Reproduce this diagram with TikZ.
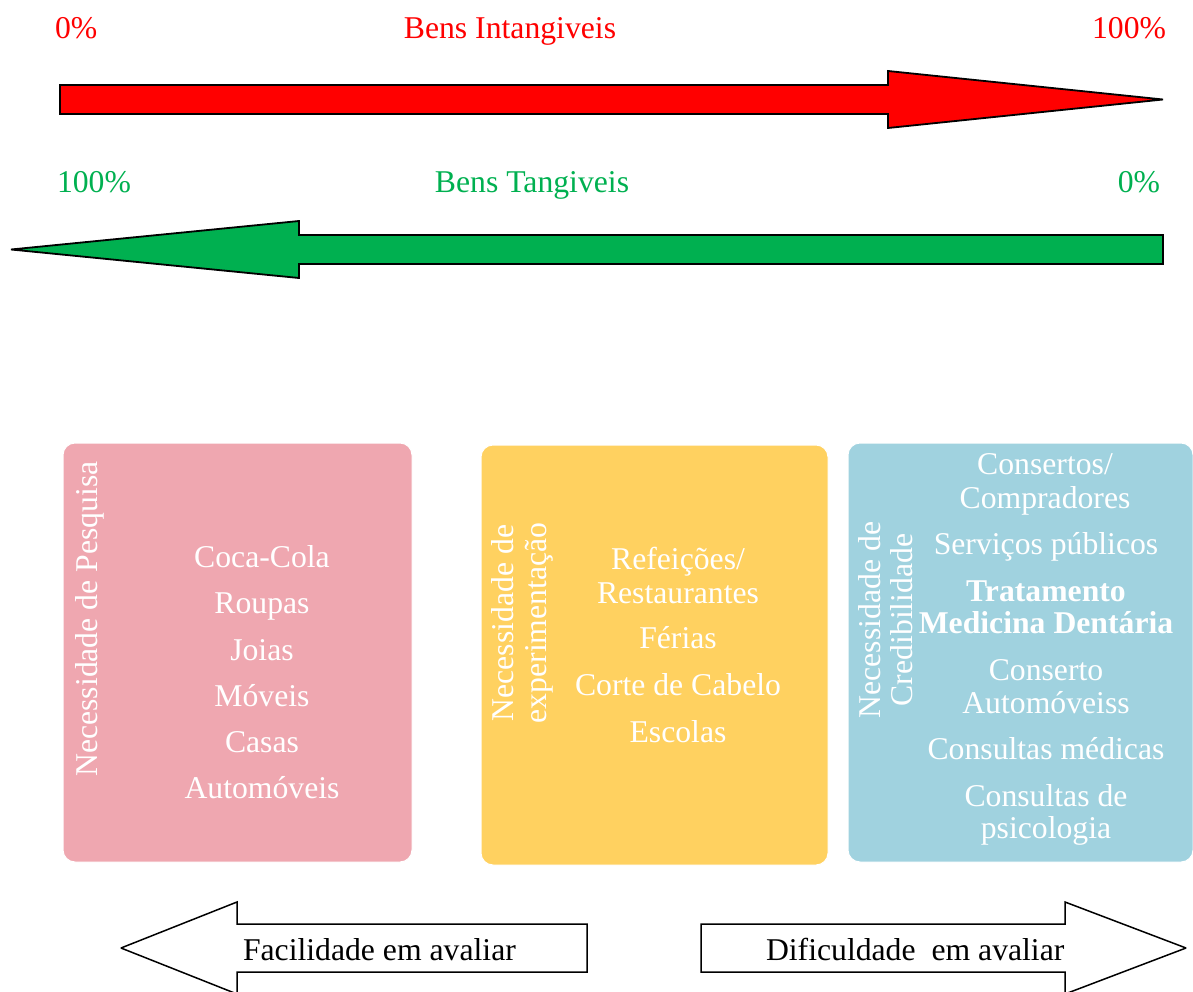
\documentclass[tikz,border=0pt]{standalone}
\usepackage{fontspec}
\setmainfont{Liberation Serif}
\definecolor{arrowred}{RGB}{255,0,0}
\definecolor{arrowgreen}{RGB}{0,176,80}
\definecolor{boxpink}{RGB}{239,167,176}
\definecolor{boxyellow}{RGB}{255,209,96}
\definecolor{boxblue}{RGB}{160,210,223}
\begin{document}
\begin{tikzpicture}[x=1pt,y=-1pt,
  txt/.style={font=\fontsize{31.7}{33}\selectfont, inner sep=0pt, outer sep=0pt, anchor=base},
  item/.style={txt, text=white},
  side/.style={item, rotate=90},
  panel/.style={draw=white, line width=1pt, rounded corners=12pt, inner sep=0pt,
                outer sep=0pt, anchor=north west},
  bigarrow/.style={draw=black, line width=1.8pt, line join=miter, miter limit=2},
  outlinearrow/.style={draw=black, line width=1.5pt, fill=white, line join=miter, miter limit=2}]
\useasboundingbox (0,0) rectangle (1193,992);

% --- scale of intangible goods (left to right)
\draw[bigarrow, fill=arrowred] (60,85) -- (888,85) -- (888,71) -- (1163,99.5)
  -- (888,128) -- (888,114) -- (60,114) -- cycle;
\node[txt, text=arrowred, anchor=base west] (redlo) at (55,39) {0\%};
\node[txt, text=arrowred] (redtitle) at (510,39) {Bens Intangiveis};
\node[txt, text=arrowred, anchor=base east] (redhi) at (1166,39) {100\%};

% --- scale of tangible goods (right to left)
\draw[bigarrow, fill=arrowgreen] (1163,235) -- (299,235) -- (299,221) -- (11,249.5)
  -- (299,278) -- (299,264) -- (1163,264) -- cycle;
\node[txt, text=arrowgreen, anchor=base west] (greenhi) at (57,193) {100\%};
\node[txt, text=arrowgreen] (greentitle) at (532,193) {Bens Tangiveis};
\node[txt, text=arrowgreen, anchor=base east] (greenlo) at (1160,193) {0\%};

% --- three panels
\node[panel, fill=boxpink, minimum width=349pt, minimum height=419pt] (pink) at (63,443) {};
\node[panel, fill=boxyellow, minimum width=347pt, minimum height=420pt] (yellow) at (481,445) {};
\node[panel, fill=boxblue, minimum width=345pt, minimum height=419pt] (blue) at (848,443) {};

% research panel
\node[side] (pinkside) at (97,619) {Necessidade de Pesquisa};
\node[item] (p1) at (262,567) {Coca-Cola};
\node[item] (p2) at (262,613) {Roupas};
\node[item] (p3) at (262,660) {Joias};
\node[item] (p4) at (262,706) {Móveis};
\node[item] (p5) at (262,752) {Casas};
\node[item] (p6) at (262,798) {Automóveis};

% experience panel
\node[side] (yside1) at (513,623) {Necessidade de};
\node[side] (yside2) at (546,623) {experimentação};
\node[item] (y1) at (678,569) {Refeições/};
\node[item] (y2) at (678,603) {Restaurantes};
\node[item] (y3) at (678,648) {Férias};
\node[item] (y4) at (678,695) {Corte de Cabelo};
\node[item] (y5) at (678,742) {Escolas};

% credence panel
\node[side] (bside1) at (880,620) {Necessidade de};
\node[side] (bside2) at (912,620) {Credibilidade};
\node[item] (b1) at (1045,474) {Consertos/};
\node[item] (b2) at (1045,508) {Compradores};
\node[item] (b3) at (1046,554) {Serviços públicos};
\node[item, font=\fontsize{31.7}{33}\selectfont\bfseries] (b4) at (1046,601) {Tratamento};
\node[item, font=\fontsize{31.7}{33}\selectfont\bfseries] (b5) at (1046,633) {Medicina Dentária};
\node[item] (b6) at (1046,680) {Conserto};
\node[item] (b7) at (1046,713) {Automóveiss};
\node[item] (b8) at (1046,759) {Consultas médicas};
\node[item] (b9) at (1046,806) {Consultas de};
\node[item] (b10) at (1046,838) {psicologia};

% --- evaluation arrows
\draw[outlinearrow] (587,924) -- (237,924) -- (237,902) -- (121,948)
  -- (237,994) -- (237,972) -- (587,972) -- cycle;
\node[txt, anchor=base west] (easy) at (243,960) {Facilidade em avaliar};
\draw[outlinearrow] (701,924) -- (1065,924) -- (1065,902) -- (1186,948)
  -- (1065,994) -- (1065,972) -- (701,972) -- cycle;
\node[txt, anchor=base west] (hard) at (766,960) {Dificuldade\ \ em avaliar};
\end{tikzpicture}
\end{document}
